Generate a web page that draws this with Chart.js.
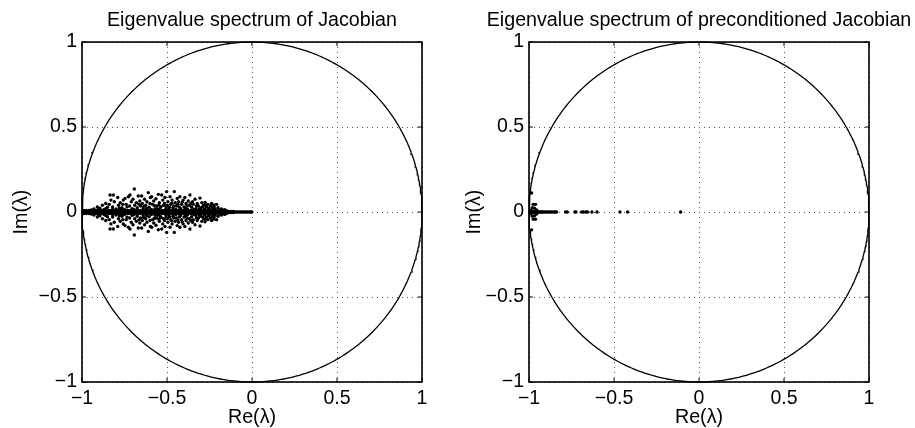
<!DOCTYPE html>
<html><head><meta charset="utf-8">
<script src="https://cdn.jsdelivr.net/npm/chart.js@4.4.0/dist/chart.umd.min.js"></script>
<style>
html,body{margin:0;padding:0;background:#fff;overflow:hidden;width:915px;height:428px;}
canvas{position:absolute;top:0;}
#c1{left:0;}
#c2{left:460px;}
</style></head><body>
<canvas id="c1" width="504" height="428" style="width:504px;height:428px"></canvas>
<canvas id="c2" width="478" height="428" style="width:478px;height:428px"></canvas>
<script>
// ---------- data ----------
const tickValues = [-1, -0.5, 0, 0.5, 1];
const tickLabels = ['\u22121', '\u22120.5', '0', '0.5', '1'];
const titles = ['Eigenvalue spectrum of Jacobian', 'Eigenvalue spectrum of preconditioned Jacobian'];
const xTitle = 'Re(\u03bb)';
const yTitle = 'Im(\u03bb)';

// Jacobian: eigenvalues on the real axis (Im = 0)
const jacAxisRe = [-0.995,-0.985,-0.976,-0.968,-0.959,-0.95,-0.941,-0.933,-0.924,-0.915,-0.906,-0.897,-0.889,-0.88,-0.871,-0.862,-0.853,-0.845,-0.836,-0.827,-0.818,-0.81,-0.801,-0.792,-0.783,-0.774,-0.766,-0.757,-0.748,-0.739,-0.731,-0.722,-0.713,-0.704,-0.696,-0.687,-0.678,-0.669,-0.661,-0.652,-0.643,-0.634,-0.626,-0.617,-0.608,-0.599,-0.591,-0.582,-0.573,-0.564,-0.556,-0.547,-0.538,-0.529,-0.521,-0.512,-0.503,-0.494,-0.486,-0.477,-0.468,-0.459,-0.451,-0.442,-0.433,-0.424,-0.416,-0.407,-0.398,-0.389,-0.381,-0.372,-0.363,-0.354,-0.346,-0.337,-0.328,-0.319,-0.311,-0.302,-0.293,-0.284,-0.276,-0.267,-0.258,-0.249,-0.241,-0.232,-0.223,-0.214,-0.206,-0.197,-0.188,-0.179,-0.171,-0.162,-0.153,-0.144,-0.136,-0.127,-0.118,-0.109,-0.101,-0.092,-0.083,-0.074,-0.066,-0.057,-0.048,-0.039,-0.031,-0.022,-0.013,-0.005,-0.001];

// Jacobian: eigenvalues very close to the real axis [Re, Im]
const jacNearAxis = [
[-0.99,0.009],[-0.99,-0.009],[-0.975,0.009],[-0.975,-0.009],[-0.96,0.009],[-0.96,-0.009],[-0.947,0.009],[-0.947,-0.009],
[-0.93,0.009],[-0.93,-0.009],[-0.918,0.009],[-0.918,-0.009],[-0.9,0.009],[-0.9,-0.009],[-0.886,0.009],[-0.886,-0.009],
[-0.872,0.009],[-0.872,-0.009],[-0.858,0.009],[-0.858,-0.009],[-0.843,0.009],[-0.843,-0.009],[-0.83,0.009],[-0.83,-0.009],
[-0.815,0.009],[-0.815,-0.009],[-0.8,0.009],[-0.8,-0.009],[-0.787,0.009],[-0.787,-0.009],[-0.772,0.009],[-0.772,-0.009],
[-0.758,0.009],[-0.758,-0.009],[-0.744,0.009],[-0.744,-0.009],[-0.73,0.009],[-0.73,-0.009],[-0.715,0.009],[-0.715,-0.009],
[-0.7,0.009],[-0.7,-0.009],[-0.686,0.009],[-0.686,-0.009],[-0.672,0.009],[-0.672,-0.009],[-0.658,0.009],[-0.658,-0.009],
[-0.644,0.009],[-0.644,-0.009],[-0.63,0.009],[-0.63,-0.009],[-0.615,0.009],[-0.615,-0.009],[-0.6,0.009],[-0.6,-0.009],
[-0.586,0.009],[-0.586,-0.009],[-0.572,0.009],[-0.572,-0.009],[-0.558,0.009],[-0.558,-0.009],[-0.544,0.009],[-0.544,-0.009],
[-0.53,0.009],[-0.53,-0.009],[-0.515,0.009],[-0.515,-0.009],[-0.5,0.009],[-0.5,-0.009],[-0.486,0.009],[-0.486,-0.009],
[-0.472,0.009],[-0.472,-0.009],[-0.458,0.009],[-0.458,-0.009],[-0.444,0.009],[-0.444,-0.009],[-0.43,0.009],[-0.43,-0.009],
[-0.415,0.009],[-0.415,-0.009],[-0.4,0.009],[-0.4,-0.009],[-0.386,0.009],[-0.386,-0.009],[-0.372,0.009],[-0.372,-0.009],
[-0.358,0.009],[-0.358,-0.009],[-0.344,0.009],[-0.344,-0.009],[-0.33,0.009],[-0.33,-0.009],[-0.315,0.009],[-0.315,-0.009],
[-0.3,0.009],[-0.3,-0.009],[-0.286,0.009],[-0.286,-0.009],[-0.272,0.009],[-0.272,-0.009],[-0.258,0.008],[-0.258,-0.008],
[-0.244,0.008],[-0.244,-0.008],[-0.23,0.008],[-0.23,-0.008],
[-0.215,0.007],[-0.215,-0.007],[-0.2,0.006],[-0.2,-0.006],[-0.185,0.006],[-0.185,-0.006],[-0.17,0.005],[-0.17,-0.005],
[-0.155,0.004],[-0.155,-0.004],[-0.14,0.004],[-0.14,-0.004],[-0.125,0.003],[-0.125,-0.003],[-0.11,0.003],[-0.11,-0.003]
];

// Jacobian: scattered complex-conjugate eigenvalues [Re, Im]
const jacScatter = [
[-0.945,0.012],[-0.945,-0.012],[-0.93,0.018],[-0.93,-0.018],[-0.91,0.03],[-0.91,-0.03],[-0.905,0.014],[-0.905,-0.014],
[-0.895,0.022],[-0.895,-0.022],[-0.88,0.04],[-0.88,-0.04],[-0.87,0.015],[-0.87,-0.015],[-0.86,0.05],[-0.86,-0.05],
[-0.86,0.02],[-0.86,-0.02],[-0.85,0.028],[-0.85,-0.028],
[-0.835,0.1],[-0.835,-0.1],[-0.816,0.1],[-0.816,-0.1],[-0.83,0.07],[-0.83,-0.07],[-0.84,0.045],[-0.84,-0.045],
[-0.82,0.03],[-0.82,-0.03],[-0.82,0.015],[-0.82,-0.015],[-0.81,0.06],[-0.81,-0.06],[-0.8,0.018],[-0.8,-0.018],
[-0.79,0.085],[-0.79,-0.085],[-0.785,0.04],[-0.785,-0.04],[-0.78,0.022],[-0.78,-0.022],[-0.775,0.055],[-0.775,-0.055],
[-0.765,0.025],[-0.765,-0.025],[-0.76,0.045],[-0.76,-0.045],[-0.757,0.07],[-0.757,-0.07],[-0.75,0.015],[-0.75,-0.015],
[-0.747,0.08],[-0.747,-0.08],[-0.74,0.045],[-0.74,-0.045],[-0.735,0.03],[-0.735,-0.03],[-0.727,0.09],[-0.727,-0.09],
[-0.72,0.035],[-0.72,-0.035],[-0.718,0.1],[-0.718,-0.1],[-0.71,0.06],[-0.71,-0.06],[-0.705,0.02],[-0.705,-0.02],
[-0.7,0.075],[-0.7,-0.075],[-0.695,0.015],[-0.695,-0.015],
[-0.692,0.135],[-0.692,-0.135],[-0.69,0.04],[-0.69,-0.04],[-0.68,0.055],[-0.68,-0.055],[-0.675,0.025],[-0.675,-0.025],
[-0.669,0.094],[-0.669,-0.094],[-0.665,0.045],[-0.665,-0.045],[-0.66,0.065],[-0.66,-0.065],[-0.655,0.035],[-0.655,-0.035],
[-0.649,0.094],[-0.649,-0.094],
[-0.645,0.05],[-0.645,-0.05],[-0.64,0.018],[-0.64,-0.018],[-0.638,0.032],[-0.638,-0.032],[-0.632,0.075],[-0.632,-0.075],
[-0.625,0.04],[-0.625,-0.04],[-0.62,0.022],[-0.62,-0.022],
[-0.618,0.06],[-0.618,-0.06],[-0.61,0.114],[-0.61,-0.114],[-0.605,0.028],[-0.605,-0.028],[-0.6,0.05],[-0.6,-0.05],
[-0.598,0.085],[-0.598,-0.085],[-0.592,0.015],[-0.592,-0.015],
[-0.59,0.09],[-0.59,-0.09],[-0.585,0.045],[-0.585,-0.045],[-0.578,0.065],[-0.578,-0.065],[-0.575,0.038],[-0.575,-0.038],
[-0.57,0.02],[-0.57,-0.02],
[-0.565,0.078],[-0.565,-0.078],[-0.56,0.035],[-0.56,-0.035],[-0.555,0.018],[-0.555,-0.018],[-0.551,0.104],[-0.551,-0.104],
[-0.548,0.042],[-0.548,-0.042],
[-0.545,0.055],[-0.545,-0.055],[-0.54,0.025],[-0.54,-0.025],[-0.535,0.032],[-0.535,-0.032],[-0.531,0.1],[-0.531,-0.1],
[-0.525,0.07],[-0.525,-0.07],
[-0.52,0.04],[-0.52,-0.04],[-0.515,0.05],[-0.515,-0.05],[-0.512,0.085],[-0.512,-0.085],[-0.508,0.015],[-0.508,-0.015],
[-0.505,0.03],[-0.505,-0.03],[-0.502,0.12],[-0.502,-0.12],
[-0.498,0.038],[-0.498,-0.038],[-0.495,0.06],[-0.495,-0.06],[-0.49,0.018],[-0.49,-0.018],[-0.485,0.028],[-0.485,-0.028],
[-0.482,0.09],[-0.482,-0.09],[-0.478,0.045],[-0.478,-0.045],
[-0.472,0.052],[-0.472,-0.052],[-0.47,0.07],[-0.47,-0.07],[-0.465,0.025],[-0.465,-0.025],[-0.46,0.035],[-0.46,-0.035],
[-0.457,0.12],[-0.457,-0.12],[-0.452,0.055],[-0.452,-0.055],[-0.448,0.015],[-0.448,-0.015],
[-0.445,0.035],[-0.445,-0.035],[-0.44,0.08],[-0.44,-0.08],[-0.436,0.045],[-0.436,-0.045],[-0.432,0.06],[-0.432,-0.06],
[-0.427,0.028],[-0.427,-0.028],[-0.424,0.09],[-0.424,-0.09],
[-0.42,0.02],[-0.42,-0.02],[-0.414,0.045],[-0.414,-0.045],[-0.41,0.058],[-0.41,-0.058],[-0.405,0.07],[-0.405,-0.07],
[-0.4,0.03],[-0.4,-0.03],
[-0.395,0.085],[-0.395,-0.085],[-0.392,0.022],[-0.392,-0.022],[-0.388,0.05],[-0.388,-0.05],[-0.383,0.035],[-0.383,-0.035],
[-0.38,0.018],[-0.38,-0.018],[-0.375,0.065],[-0.375,-0.065],
[-0.368,0.04],[-0.368,-0.04],[-0.365,0.1],[-0.365,-0.1],[-0.36,0.05],[-0.36,-0.05],[-0.355,0.028],[-0.355,-0.028],
[-0.35,0.06],[-0.35,-0.06],[-0.345,0.045],[-0.345,-0.045],[-0.342,0.015],[-0.342,-0.015],[-0.335,0.075],[-0.335,-0.075],
[-0.33,0.02],[-0.33,-0.02],[-0.326,0.035],[-0.326,-0.035],
[-0.322,0.05],[-0.322,-0.05],[-0.315,0.035],[-0.315,-0.035],[-0.31,0.018],[-0.31,-0.018],[-0.306,0.082],[-0.306,-0.082],
[-0.3,0.025],[-0.3,-0.025],
[-0.295,0.055],[-0.295,-0.055],[-0.29,0.03],[-0.29,-0.03],[-0.285,0.04],[-0.285,-0.04],[-0.278,0.018],[-0.278,-0.018],
[-0.276,0.057],[-0.276,-0.057],[-0.272,0.04],[-0.272,-0.04],
[-0.268,0.03],[-0.268,-0.03],[-0.26,0.045],[-0.26,-0.045],[-0.255,0.022],[-0.255,-0.022],[-0.25,0.015],[-0.25,-0.015],
[-0.245,0.035],[-0.245,-0.035],[-0.238,0.05],[-0.238,-0.05],[-0.235,0.03],[-0.235,-0.03],[-0.23,0.02],[-0.23,-0.02],
[-0.225,0.042],[-0.225,-0.042],[-0.222,0.03],[-0.222,-0.03],
[-0.215,0.015],[-0.215,-0.015],[-0.208,0.045],[-0.208,-0.045],[-0.2,0.025],[-0.2,-0.025],[-0.19,0.012],[-0.19,-0.012],
[-0.18,0.018],[-0.18,-0.018],[-0.17,0.01],[-0.17,-0.01],[-0.16,0.014],[-0.16,-0.014],[-0.15,0.008],[-0.15,-0.008]
];

// Preconditioned Jacobian: eigenvalues on the real axis (Im = 0)
const preAxisRe = [-0.995,-0.99,-0.985,-0.98,-0.976,-0.972,-0.968,-0.964,-0.96,-0.955,-0.95,-0.945,-0.94,-0.934,-0.928,-0.922,-0.915,-0.907,-0.898,-0.889,-0.88,-0.871,-0.862,-0.853,-0.845,-0.838,-0.785,-0.775,-0.73,-0.724,-0.69,-0.68,-0.665,-0.656,-0.63,-0.6,-0.465,-0.42,-0.108];

// Preconditioned Jacobian: complex eigenvalues near -1 [Re, Im]
const preOffAxis = [
[-0.985,0.112],[-0.985,-0.105],[-0.975,0.045],[-0.962,0.045],[-0.975,-0.042],[-0.962,-0.042],
[-0.98,0.025],[-0.968,0.022],[-0.98,-0.025],[-0.968,-0.022],[-0.955,0.012],[-0.955,-0.012],
[-0.988,0.01],[-0.988,-0.01]
];

// ---------- reference unit circle |lambda| = 1 ----------
const circleSegments = 400;
const unitCircle = [];
for (let i = 0; i <= circleSegments; i++) {
  const t = 2 * Math.PI * i / circleSegments;
  unitCircle.push({x: Math.cos(t), y: Math.sin(t)});
}

const toPts = arr => arr.map(p => ({x: p[0], y: p[1]}));
const axisPts = arr => arr.map(r => ({x: r, y: 0}));

const FONT = "'Liberation Sans', Arial, Helvetica, sans-serif";
const TICK_LEN = 4;

const framePlugin = {
  id: 'frame',
  afterDatasetsDraw(chart) {
    const {ctx, chartArea: a, scales: {x, y}} = chart;
    ctx.save();
    ctx.setLineDash([]);
    ctx.strokeStyle = '#000';
    ctx.lineWidth = 1;
    ctx.beginPath();
    tickValues.forEach(v => {
      const px = x.getPixelForValue(v), py = y.getPixelForValue(v);
      ctx.moveTo(px, a.bottom); ctx.lineTo(px, a.bottom - TICK_LEN);
      ctx.moveTo(px, a.top); ctx.lineTo(px, a.top + TICK_LEN);
      ctx.moveTo(a.left, py); ctx.lineTo(a.left + TICK_LEN, py);
      ctx.moveTo(a.right, py); ctx.lineTo(a.right - TICK_LEN, py);
    });
    ctx.stroke();
    ctx.lineWidth = 1.6;
    ctx.strokeRect(a.left, a.top, a.right - a.left, a.bottom - a.top);
    ctx.restore();
  }
};

function labelFor(v) {
  const i = tickValues.findIndex(t => Math.abs(t - v) < 1e-9);
  return i >= 0 ? tickLabels[i] : '';
}

function makeChart(id, titleText, pointSets, sideW, yTitlePad) {
  const pointDatasets = pointSets.map(pts => ({
    data: pts, showLine: false, pointRadius: 1.7, pointHoverRadius: 1.7,
    pointBackgroundColor: '#000', pointBorderWidth: 0, clip: false, order: 1
  }));
  return new Chart(document.getElementById(id), {
    type: 'scatter',
    data: {
      datasets: [
        {data: unitCircle, showLine: true, borderColor: '#000', borderWidth: 1.3, pointRadius: 0,
         fill: false, tension: 0, clip: false, order: 2},
        ...pointDatasets
      ]
    },
    options: {
      responsive: false, animation: false, events: [],
      layout: {padding: 0},
      plugins: {
        legend: {display: false}, tooltip: {enabled: false},
        title: {display: true, text: titleText, color: '#000',
                font: {family: FONT, size: 19.7, weight: 'normal', lineHeight: 1.2},
                padding: {top: 9.2, bottom: 9.2}}
      },
      scales: {
        x: {
          type: 'linear', min: -1, max: 1,
          afterBuildTicks: s => { s.ticks = tickValues.map(v => ({value: v})); },
          afterFit: s => { s.height = 46; },
          ticks: {callback: v => labelFor(v), color: '#000', font: {family: FONT, size: 19.5},
                  padding: 5, maxRotation: 0, autoSkip: false},
          grid: {color: '#555', lineWidth: 1, drawTicks: false},
          border: {display: false, dash: [1, 4]},
          title: {display: true, text: xTitle, color: '#000',
                  font: {family: FONT, size: 19.7, lineHeight: 1}, padding: {top: 0, bottom: 0.5}}
        },
        y: {
          type: 'linear', min: -1, max: 1, position: 'left',
          afterBuildTicks: s => { s.ticks = tickValues.map(v => ({value: v})); },
          afterFit: s => { s.width = sideW; },
          ticks: {callback: v => labelFor(v), color: '#000', font: {family: FONT, size: 19.5},
                  padding: 5, autoSkip: false},
          grid: {color: '#555', lineWidth: 1, drawTicks: false},
          border: {display: false, dash: [1, 4]},
          title: {display: true, text: yTitle, color: '#000',
                  font: {family: FONT, size: 19.7, lineHeight: 1.2}, padding: {top: yTitlePad, bottom: 0}}
        },
        yPad: {
          type: 'linear', min: -1, max: 1, position: 'right',
          afterFit: s => { s.width = sideW; },
          ticks: {display: false}, grid: {display: false}, border: {display: false}
        }
      }
    },
    plugins: [framePlugin]
  });
}

makeChart('c1', titles[0], [axisPts(jacAxisRe), toPts(jacNearAxis), toPts(jacScatter)], 82, 10);
makeChart('c2', titles[1], [axisPts(preAxisRe), toPts(preOffAxis)], 69, 2.6);
</script>
</body></html>
